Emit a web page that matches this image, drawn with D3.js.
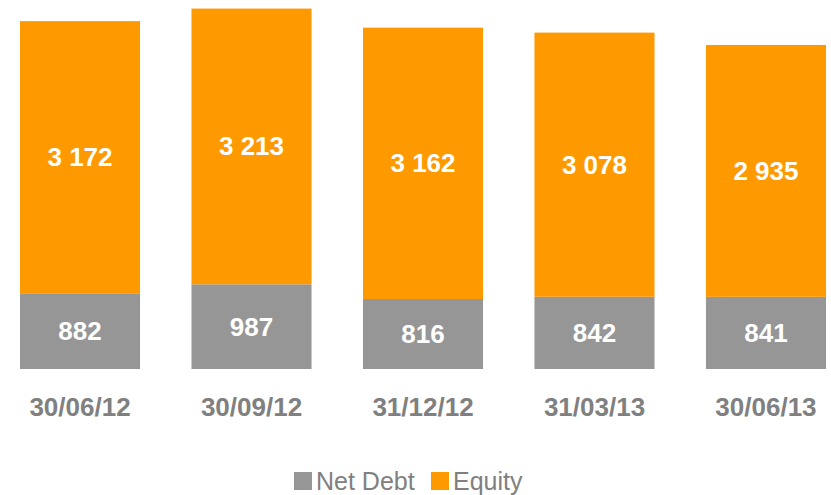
<!DOCTYPE html>
<html>
<head>
<meta charset="utf-8">
<script src="https://cdnjs.cloudflare.com/ajax/libs/d3/7.8.5/d3.min.js"></script>
<style>
  body { margin: 0; background: #fff; }
  svg { display: block; font-family: "Liberation Sans", Arial, sans-serif; }
</style>
</head>
<body>
<svg id="chart"></svg>
<script>
// data
const dates = ["30/06/12", "30/09/12", "31/12/12", "31/03/13", "30/06/13"];
const netDebt = [882, 987, 816, 842, 841];
const equity = [3172, 3213, 3162, 3078, 2935];
const seriesNames = ["Net Debt", "Equity"];
const colors = ["#969696", "#ff9900"];

const w = 831;
const h = 495;
const svg = d3.select("#chart")
  .attr("width", w)
  .attr("height", h);

const rows = dates.map((d, i) => ({ date: d, "Net Debt": netDebt[i], "Equity": equity[i] }));
const stacked = d3.stack().keys(seriesNames)(rows);

const x = d3.scaleBand()
  .domain(dates)
  .range([20, 826])
  .paddingInner(0.3)
  .paddingOuter(0);

const y = d3.scaleLinear()
  .domain([0, 4300])
  .range([369, 0]);

const color = d3.scaleOrdinal().domain(seriesNames).range(colors);

// bars
const layers = svg.selectAll(".layer")
  .data(stacked)
  .join("g")
  .attr("class", "layer")
  .attr("fill", d => color(d.key));

layers.selectAll("rect")
  .data(d => d)
  .join("rect")
  .attr("x", d => x(d.data.date))
  .attr("y", d => y(d[1]))
  .attr("width", x.bandwidth())
  .attr("height", d => y(d[0]) - y(d[1]));

// value labels
const fmt = v => d3.format(",")(v).replace(/,/g, " ");
layers.selectAll("text")
  .data(d => d)
  .join("text")
  .attr("x", d => x(d.data.date) + x.bandwidth() / 2)
  .attr("y", d => (y(d[0]) + y(d[1])) / 2)
  .attr("text-anchor", "middle")
  .attr("dominant-baseline", "central")
  .attr("fill", "#fff")
  .attr("font-size", 26)
  .attr("font-weight", "bold")
  .text(d => fmt(d[1] - d[0]));

// x axis labels
const xAxis = svg.append("g")
  .attr("transform", "translate(0,369)")
  .call(d3.axisBottom(x).tickSize(0).tickPadding(29));
xAxis.select(".domain").remove();
xAxis.selectAll("text")
  .attr("fill", "#808080")
  .attr("font-size", 26)
  .attr("font-weight", "bold")
  .attr("font-family", "Liberation Sans, Arial, sans-serif");

// legend
const legend = svg.append("g").attr("transform", "translate(294,472)");
const legendX = [0, 137];
const items = legend.selectAll("g")
  .data(seriesNames)
  .join("g")
  .attr("transform", (d, i) => `translate(${legendX[i]},0)`);
items.append("rect")
  .attr("width", 18)
  .attr("height", 18)
  .attr("fill", d => color(d));
items.append("text")
  .attr("x", 22)
  .attr("y", 18)
  .attr("fill", "#808080")
  .attr("font-size", 25)
  .text(d => d);
</script>
</body>
</html>
